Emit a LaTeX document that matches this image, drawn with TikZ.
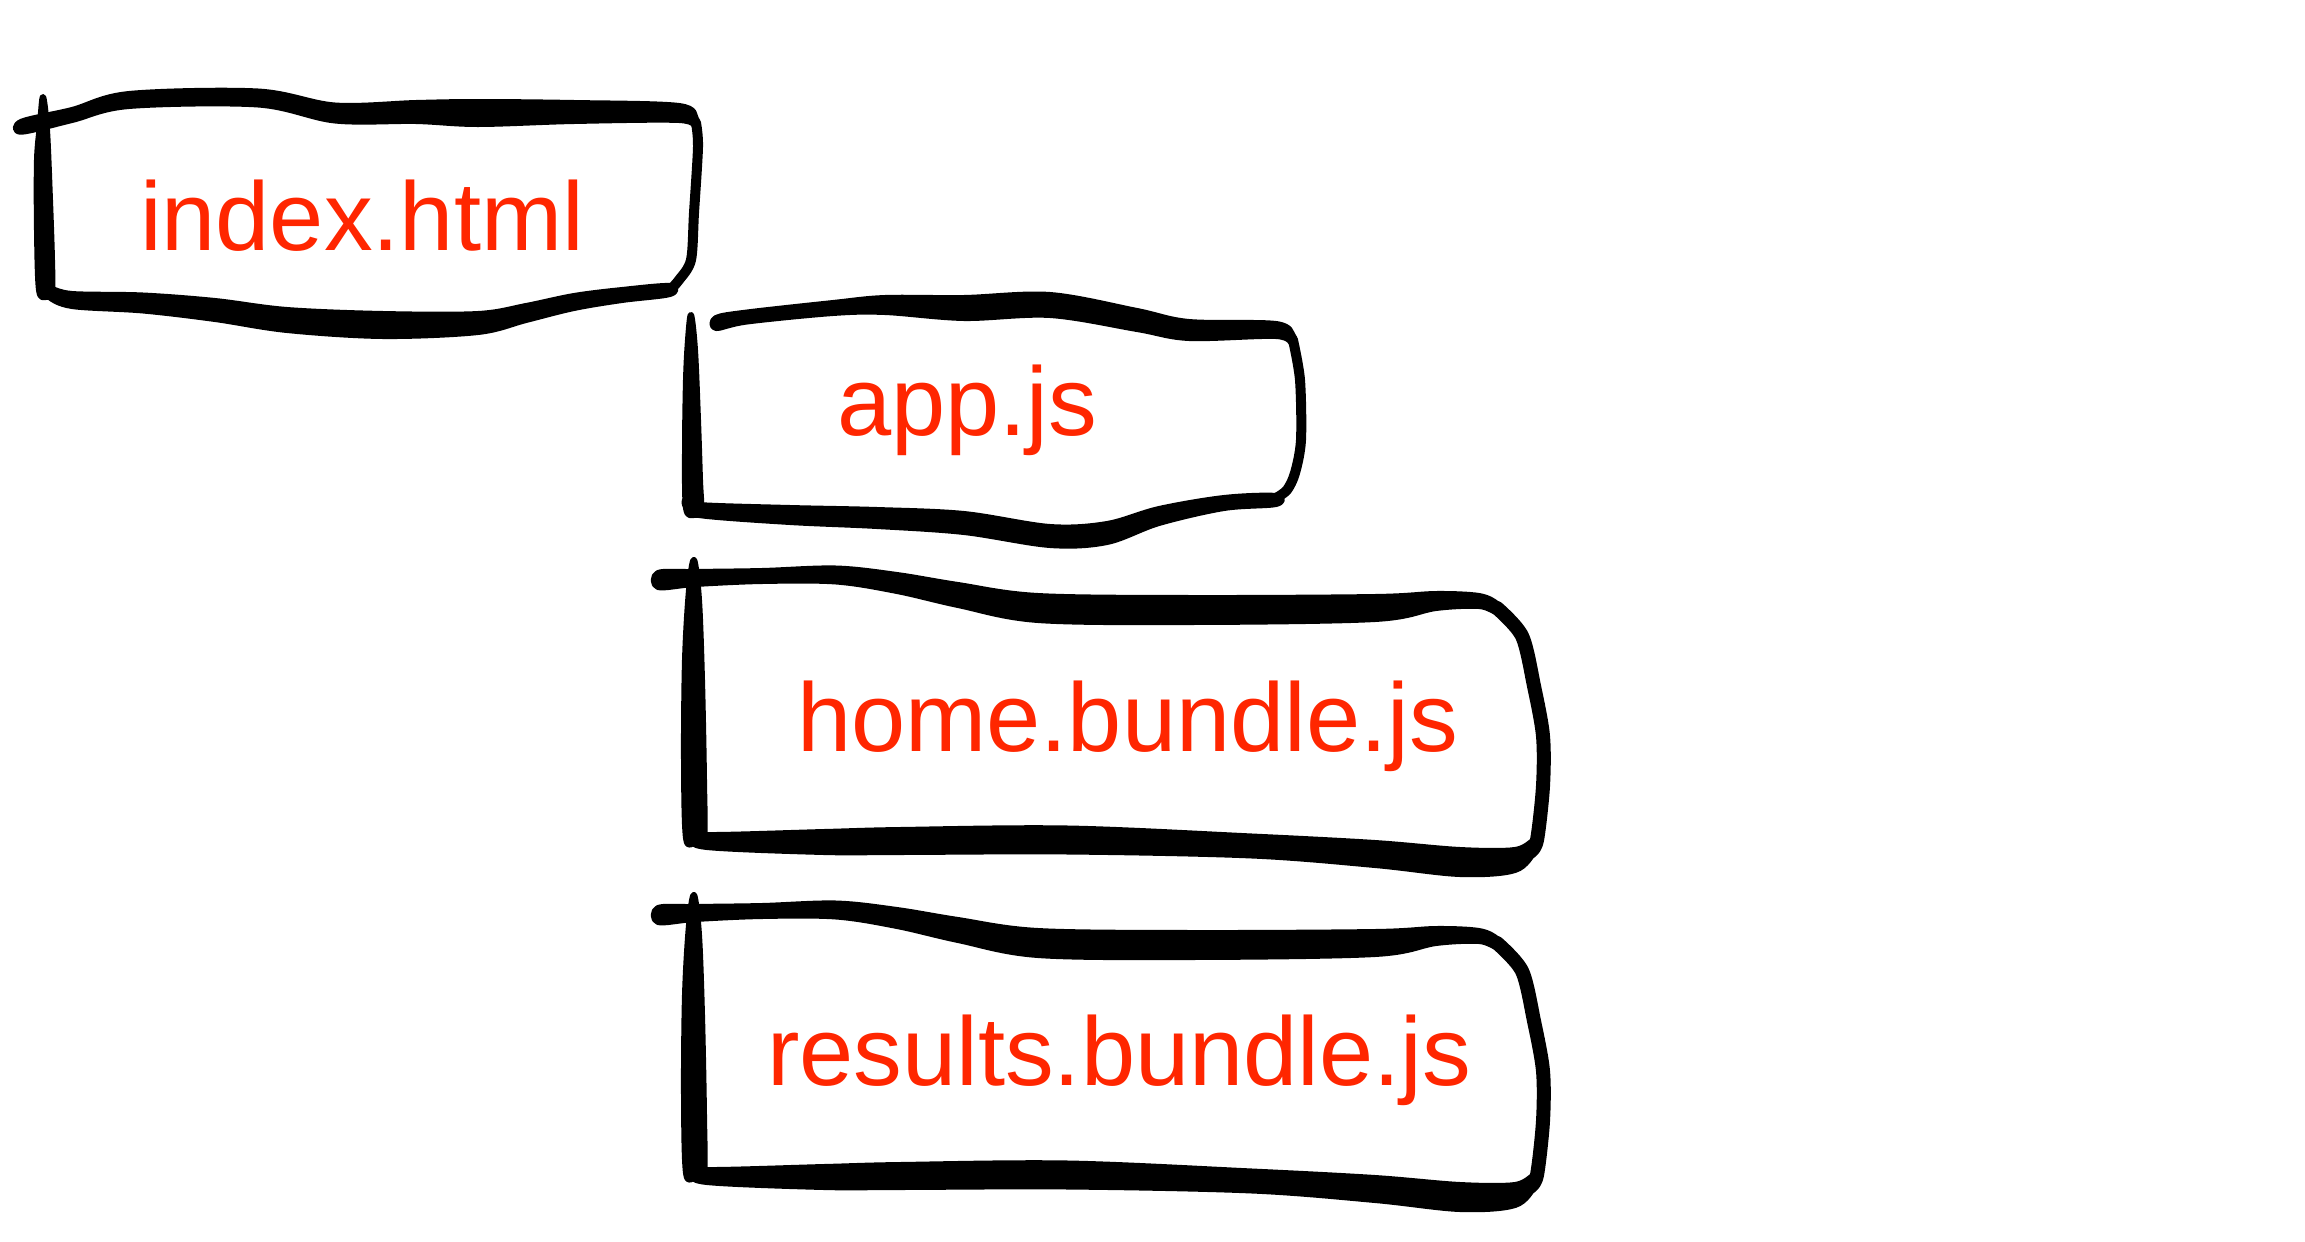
\documentclass[tikz,border=0pt]{standalone}
\usepackage{fontspec}
\setmainfont{Liberation Sans}
\definecolor{kred}{RGB}{255,38,0}
\newcommand\inkband[1]{\filldraw[black, line width=0.06cm, line join=round] plot[smooth cycle, tension=0.55] coordinates {#1};}
\newcommand\bundleshape{%
  % top band
  \inkband{(658,573)(695,572)(762,571)(836,568.5)(897,575)(958,585)(1038,596)(1191,598)(1375,597)(1436,594)(1479,596)(1497,604)
           (1497,612)(1479,606)(1436,608)(1375,619)(1191,622)(1038,620)(958,605)(897,591)(836,581.5)(762,581)(695,584)(658,587)}
  % right side
  \draw[inkline, line width=0.14cm] plot[smooth] coordinates {(1497,608)(1522,636)(1534,686)(1543,736)(1543,786)(1537,840)(1530,852)};
  % bottom band
  \inkband{(1535,840)(1515,850)(1460,850)(1375,843)(1252,836.5)(1068,828.5)(900,830)(824,832)(707,835)(692,830)
           (692,838)(707,847)(824,852)(900,852)(1068,851.5)(1252,855.5)(1375,865)(1460,874)(1515,870)(1535,850)}
  % left side
  \inkband{(694,560)(699,600)(702,680)(704,780)(704,838)(695,842)(686,838)(684,760)(685,660)(689,590)}
}
\begin{document}
\begin{tikzpicture}[x=0.01cm,y=-0.01cm,
  lbl/.style={text=kred, font=\fontsize{27.7pt}{32pt}\selectfont, inner sep=0pt, anchor=base},
  inkline/.style={draw=black, line cap=round, line join=round}]
\useasboundingbox[fill=white] (0,0) rectangle (2305,1242);

% ---------- box 1: index.html ----------
\inkband{(21.5,121.7)(72,110)(129,94)(258,91.5)(335,105.5)(416,103)(478,102)(574,103)(679,106)(696,119)
         (696,127)(679,120)(574,121)(478,124)(416,121)(335,120.5)(258,104.5)(129,106)(72,120)(21.5,131.7)}
\draw[inkline, line width=0.1cm] plot[smooth] coordinates {(696,123)(698,147)(694,213)(691,260)(679,280)(670,290)};
\inkband{(670,286)(622,290)(574,296)(526,306)(478,314)(383,314)(287,310)(215,301)(143,295.5)(72,294)(48,288)
         (48,296)(72,306)(143,310.5)(215,319)(287,330)(383,336)(478,332)(526,320)(574,308)(622,300)(670,294)}
\inkband{(43,97)(47,130)(50,200)(52,260)(52,292)(46,297)(39,290)(37,230)(37,160)(40,125)}
\node[lbl] (t1) at (362,250) {index.html};

% ---------- box 2: app.js ----------
\inkband{(716,318)(747,312.5)(833,303)(885,298)(964,298)(1050,295)(1137,311)(1189,322)(1276,324)(1293,336)
         (1293,344)(1276,336)(1189,338)(1137,329)(1050,315)(964,318)(885,312)(833,313)(747,321.5)(716,328)}
\draw[inkline, line width=0.1cm] plot[smooth] coordinates {(1293,340)(1300,380)(1301,440)(1295,473)(1287,490)(1276,498)};
\inkband{(1276,496)(1224,498)(1159,509)(1107,524)(1050,527)(964,514)(877,510)(790,508)(699,505)(686,499.5)
         (686,506.5)(699,515)(790,522)(877,526)(964,532)(1050,545)(1107,542)(1159,523)(1224,508)(1276,504)}
\inkband{(691,315)(695,350)(698,420)(700,480)(701,510)(694,515)(686,508)(685,450)(686,380)(688,340)}
\node[lbl] (t2) at (967,435.7) {app.js};

% ---------- box 3: home.bundle.js ----------
\bundleshape
\node[lbl] (t3) at (1127.5,751) {home.bundle.js};

% ---------- box 4: results.bundle.js ----------
\begin{scope}[shift={(0,335)}]
\bundleshape
\end{scope}
\node[lbl] (t4) at (1119,1085) {results.bundle.js};
\end{tikzpicture}
\end{document}
